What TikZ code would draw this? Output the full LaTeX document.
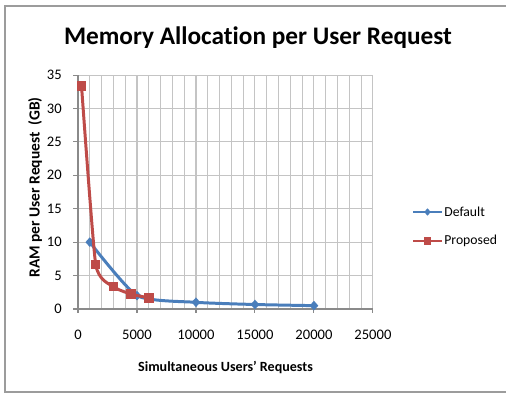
\documentclass[tikz,border=0pt]{standalone}
\usepackage{fontspec}
\setmainfont{Carlito}[Ligatures={NoCommon}]
\usetikzlibrary{shapes.geometric}
\definecolor{dfblue}{HTML}{4A7EBB}
\definecolor{ppred}{HTML}{BE4B48}
\definecolor{gridgray}{HTML}{C4C4C4}
\definecolor{axisgray}{HTML}{8A8A8A}
\definecolor{framegray}{HTML}{9C9C9C}
\tikzset{
  gridline/.style={gridgray,line width=0.6pt},
  axisline/.style={axisgray,line width=0.6pt},
  ticklab/.style={font=\fontsize{8.3}{10}\selectfont,inner sep=0pt},
  axtitle/.style={font=\fontsize{8}{10}\selectfont\bfseries,inner sep=0pt},
  legtext/.style={font=\fontsize{7.8}{10}\selectfont,inner sep=0pt,anchor=west},
  dfline/.style={dfblue,line width=1.7pt,line join=round},
  ppline/.style={ppred,line width=1.7pt,line join=round},
  dmark/.style={diamond,fill=dfblue,inner sep=0pt,minimum width=0.18cm,minimum height=0.2cm},
  pmark/.style={rectangle,fill=ppred,inner sep=0pt,minimum size=0.19cm},
}
\begin{document}
\begin{tikzpicture}[x=0.02cm,y=0.02cm]
  \useasboundingbox[fill=white] (0,0) rectangle (506,394);
  \draw[framegray,line width=0.6pt] (506,388) -- (5,388) -- (5,2) -- (506,2);
  \node[font=\fontsize{14.4}{16}\selectfont\bfseries,anchor=base,inner sep=0pt] (title) at (258,349) {Memory Allocation per User Request};
  \begin{scope}[shift={(78,85)},x=0.236cm,y=0.13372cm]
    \foreach \i in {1,...,25} \draw[gridline] (\i,0) -- (\i,35);
    \foreach \j in {5,10,...,35} \draw[gridline] (0,\j) -- (25,\j);
    \draw[axisline] (0,35) -- (0,0) -- (25,0);
    \foreach \j in {0,5,...,35} {
      \draw[axisline] (0,\j) -- ++(-0.1cm,0);
      \node[ticklab,anchor=east] at ([xshift=-0.32cm]0,\j) {\j};
    }
    \foreach \i/\n in {0/0,5/5000,10/10000,15/15000,20/20000,25/25000} {
      \draw[axisline] (\i,0) -- ++(0,-0.08cm);
      \node[ticklab,anchor=base] at ([yshift=-0.62cm]\i,0) {\n};
    }
    \draw[dfline] plot[smooth,tension=0.35] coordinates {(1,10) (5,2) (10,1) (15,0.67) (20,0.5)};
    \foreach \p in {(1,10),(5,2),(10,1),(15,0.67),(20,0.5)} \node[dmark] at \p {};
    \draw[ppline] plot[smooth,tension=0.3] coordinates {(0.3,33.33) (1.5,6.67) (3,3.33) (4.5,2.22) (6,1.67)};
    \foreach \p in {(0.3,33.33),(1.5,6.67),(3,3.33),(4.5,2.22),(6,1.67)} \node[pmark] at \p {};
  \end{scope}
  \node[axtitle,anchor=base] (xtitle) at (225.5,22) {Simultaneous Users' Requests};
  \node[axtitle,font=\fontsize{8.8}{10}\selectfont\bfseries,rotate=90] (ytitle) at (35,206.5) {RAM per User Request~~(GB)};
  \coordinate (dfa) at (413,182);
  \coordinate (dfb) at (442,182);
  \draw[dfline,line width=1.4pt] (dfa) -- (dfb) node[midway,dmark,minimum width=0.15cm,minimum height=0.17cm] (dfm) {};
  \node[legtext] (dflab) at ([xshift=0.04cm]dfb) {Default};
  \coordinate (ppa) at (413,153);
  \coordinate (ppb) at (442,153);
  \draw[ppline,line width=1.4pt] (ppa) -- (ppb) node[midway,pmark,minimum size=0.15cm] (ppm) {};
  \node[legtext] (pplab) at ([xshift=0.04cm]ppb) {Proposed};
\end{tikzpicture}
\end{document}
